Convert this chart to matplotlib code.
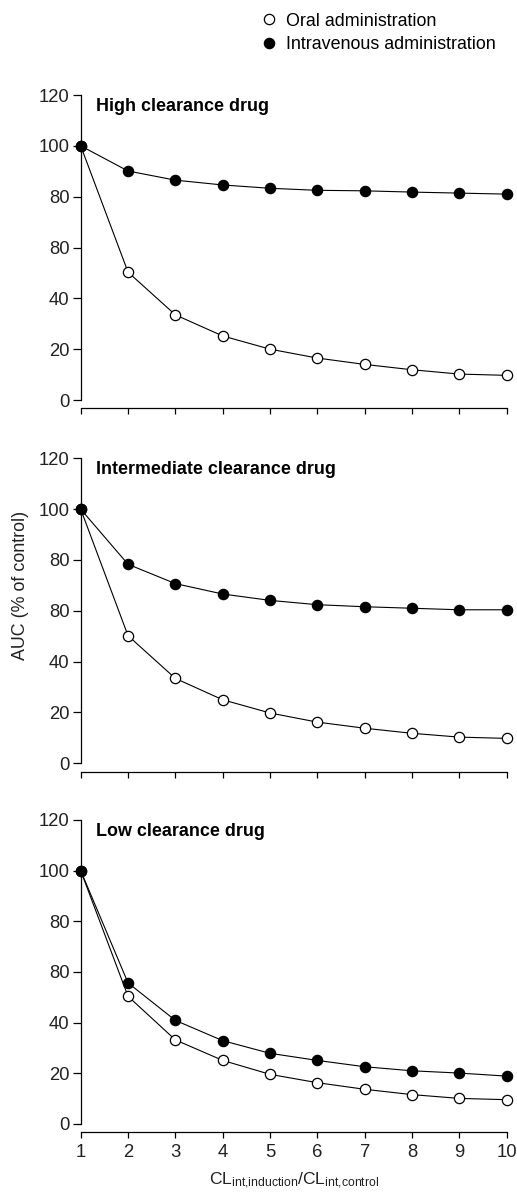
import matplotlib
matplotlib.use("Agg")
import matplotlib.pyplot as plt
from matplotlib.lines import Line2D

plt.rcParams['font.family'] = ['Liberation Sans', 'DejaVu Sans']
plt.rcParams['mathtext.fontset'] = 'custom'
plt.rcParams['mathtext.rm'] = 'Liberation Sans'
plt.rcParams['mathtext.it'] = 'Liberation Sans'

# ---- data ----
x_ratio = [1, 2, 3, 4, 5, 6, 7, 8, 9, 10]
panel_titles = ["High clearance drug", "Intermediate clearance drug", "Low clearance drug"]

high_oral = [100, 50.3, 33.5, 25.2, 20.0, 16.5, 14.0, 11.9, 10.2, 9.7]
high_iv = [100, 90.1, 86.5, 84.6, 83.3, 82.5, 82.3, 81.8, 81.4, 81.0]

inter_oral = [100, 50.2, 33.4, 25.0, 19.8, 16.2, 13.8, 11.8, 10.3, 9.8]
inter_iv = [100, 78.3, 70.7, 66.6, 64.1, 62.4, 61.6, 61.0, 60.4, 60.4]

low_oral = [100, 50.4, 33.2, 25.1, 19.6, 16.3, 13.7, 11.6, 10.1, 9.6]
low_iv = [100, 55.7, 40.9, 32.9, 27.9, 25.1, 22.6, 21.0, 20.1, 18.9]

y_ticks = [0, 20, 40, 60, 80, 100, 120]
y_tick_labels = ["0", "20", "40", "80", "80", "100", "120"]  # as printed in the original
x_ticks = [1, 2, 3, 4, 5, 6, 7, 8, 9, 10]

series = [(high_oral, high_iv), (inter_oral, inter_iv), (low_oral, low_iv)]

W, H = 517, 1193
fig = plt.figure(figsize=(W / 100, H / 100), dpi=100)

left_px, right_px = 80.7, 506.7
panels_px = [(95, 400), (458.3, 763.3), (820, 1124)]  # (top, bottom) pixels
tick_fs = 13.3

for i, ((top, bot), (oral, iv), title) in enumerate(zip(panels_px, series, panel_titles)):
    ax = fig.add_axes([left_px / W, 1 - bot / H, (right_px - left_px) / W, (bot - top) / H])
    ax.plot(x_ratio, oral, color='black', lw=0.8, marker='o', ms=7.4, mfc='white',
            mec='black', mew=0.9, clip_on=False, zorder=3)
    ax.plot(x_ratio, iv, color='black', lw=0.8, marker='o', ms=7.4, mfc='black',
            mec='black', mew=0.9, clip_on=False, zorder=4)
    ax.set_xlim(1, 10)
    ax.set_ylim(0, 120)
    ax.set_yticks(y_ticks)
    ax.set_yticklabels(y_tick_labels)
    ax.set_xticks(x_ticks)
    for s in ['top', 'right']:
        ax.spines[s].set_visible(False)
    ax.spines['bottom'].set_position(('outward', 6))
    ax.spines['left'].set_linewidth(0.9)
    ax.spines['bottom'].set_linewidth(0.9)
    ax.tick_params(axis='y', direction='out', length=5.5, width=0.9, labelsize=tick_fs,
                   pad=2.5, colors='black', labelcolor='#222222')
    ax.tick_params(axis='x', direction='out', length=4.5, width=0.9, labelsize=tick_fs,
                   pad=4, colors='black', labelcolor='#222222')
    if i < 2:
        ax.set_xticklabels([])
    ax.text(0.037, 0.99, title, transform=ax.transAxes, fontsize=12.9, fontweight='bold',
            va='top', ha='left', color='black')

fig.text(21 / W, 1 - 585 / H, "AUC (% of control)", rotation=90, ha='center', va='center',
         fontsize=12.9, color='#222222')
fig.text(294 / W, 1 - 1185 / H,
         r"CL$_{\mathrm{int{,}induction}}$/CL$_{\mathrm{int{,}control}}$",
         ha='center', va='baseline', fontsize=12.6, color='#222222')

handles = [Line2D([], [], ls='none', marker='o', ms=7.4, mfc='white', mec='black', mew=0.9),
           Line2D([], [], ls='none', marker='o', ms=7.4, mfc='black', mec='black', mew=0.9)]
fig.legend(handles, ["Oral administration", "Intravenous administration"],
           loc='upper left', bbox_to_anchor=(262 / W, 1 - 12.5 / H), frameon=False,
           fontsize=12.9, handlelength=0.8, handletextpad=0.55, labelspacing=0.36,
           borderpad=0, borderaxespad=0)

fig.savefig("out.png", dpi=100)
